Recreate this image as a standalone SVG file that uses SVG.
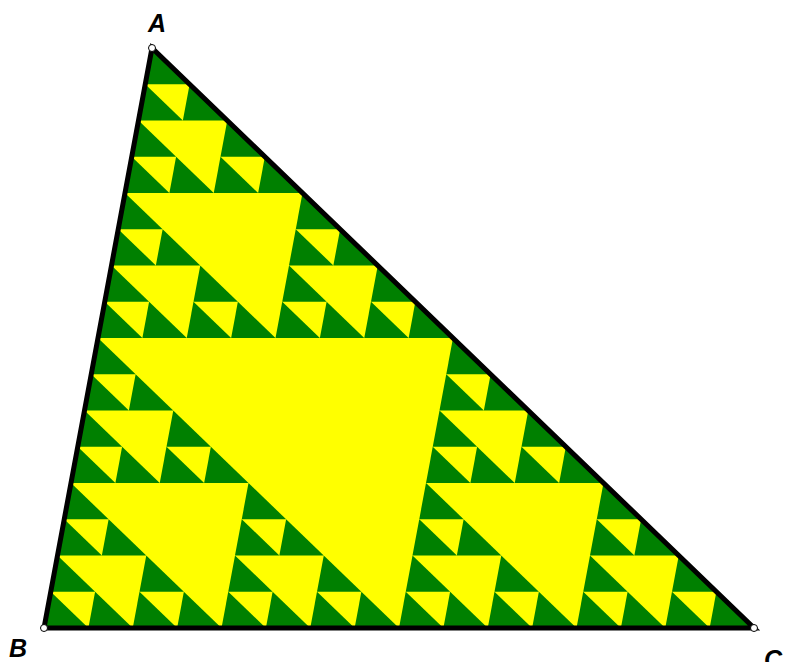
<svg xmlns="http://www.w3.org/2000/svg" xmlns:xlink="http://www.w3.org/1999/xlink" width="788" height="662" viewBox="0 0 788 662">
<style>
.lbl{font-family:"Liberation Sans",Arial,sans-serif;font-weight:bold;font-style:italic;font-size:25px;fill:#000}
.g{fill:#008000}
.pt{fill:#fff;stroke:#000;stroke-width:1}
</style>
<defs>
<polygon id="t0" class="g" points="0,0 44.375,0 6.75,-36.25"/>
<g id="t1"><use href="#t0"/><use href="#t0" x="44.375"/><use href="#t0" x="6.75" y="-36.25"/></g>
<g id="t2"><use href="#t1"/><use href="#t1" x="88.75"/><use href="#t1" x="13.5" y="-72.5"/></g>
<g id="t3"><use href="#t2"/><use href="#t2" x="177.5"/><use href="#t2" x="27" y="-145"/></g>
<g id="t4"><use href="#t3"/><use href="#t3" x="355"/><use href="#t3" x="54" y="-290"/></g>
</defs>
<rect width="788" height="662" fill="#fff"/>
<polygon points="152,48 44,628 754,628" fill="#ffff00"/>
<use href="#t4" x="44" y="628"/>
<polygon points="152,48 44,628 754,628" fill="none" stroke="#000" stroke-width="5" stroke-linejoin="miter"/>
<circle class="pt" cx="152" cy="48" r="3.5"/>
<circle class="pt" cx="44" cy="628" r="3.5"/>
<circle class="pt" cx="754" cy="628" r="3.5"/>
<text class="lbl" x="148" y="32">A</text>
<text class="lbl" x="9" y="657">B</text>
<text class="lbl" x="764" y="668">C</text>
</svg>
